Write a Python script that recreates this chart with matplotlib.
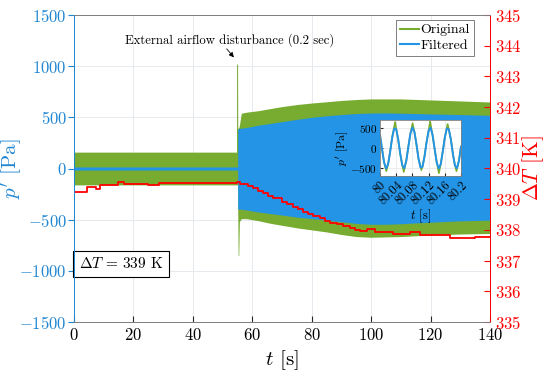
import matplotlib
matplotlib.use('Agg')
import matplotlib.pyplot as plt
from matplotlib.ticker import FixedLocator, FixedFormatter
from matplotlib.lines import Line2D

plt.rcParams.update({
    'font.family': 'serif',
    'font.serif': ['cmr10'],
    'mathtext.fontset': 'cm',
    'axes.formatter.use_mathtext': True,
})

# ---------------- data ----------------
# main plot: envelopes of the pressure signals (Pa)
green_t = [0, 54.70, 54.72, 55.05, 55.10, 55.25, 55.45, 55.65, 56.3, 58, 62, 66, 70, 75,
           80, 85, 90, 95, 100, 110, 120, 130, 140]
green_hi = [160, 160, 1020, 1020, 390, 395, 400, 420, 540, 550, 565, 585, 605, 625,
            640, 652, 665, 674, 680, 680, 670, 660, 650]
green_lo = [-160, -160, -160, -160, -395, -850, -850, -520, -490, -490, -510, -535, -555, -580,
            -600, -620, -645, -665, -672, -665, -650, -640, -635]

blue_t = [0, 55.08, 55.10, 58, 62, 66, 70, 75, 80, 85, 90, 95, 100, 105, 110, 115, 120,
          125, 130, 135, 140]
blue_hi = [15, 15, 390, 400, 423, 440, 458, 480, 500, 515, 527, 537, 542, 543, 540, 537,
           533, 530, 527, 523, 520]
blue_lo = [-15, -15, -395, -405, -425, -440, -455, -475, -490, -505, -520, -537, -545, -545,
           -540, -532, -525, -518, -512, -508, -505]

# temperature difference (K), step signal
dT_t = [0, 4.3, 7.3, 8.8, 14.8, 16.8, 25.0, 28.7, 54.8, 55.9, 58.7, 60.4, 62.0, 63.7, 65.4,
        67.1, 69.9, 71.6, 73.8, 75.5, 77.2, 78.9, 80.5, 82.8, 84.5, 86.2, 88.4, 90.6, 92.9,
        94.6, 96.3, 98.5, 101.3, 107.5, 113.1, 116.5, 126.6, 135.0, 140]
dT = [339.24, 339.39, 339.34, 339.46, 339.55, 339.50, 339.45, 339.54, 339.56, 339.50, 339.43,
      339.35, 339.28, 339.19, 339.10, 339.03, 338.92, 338.84, 338.76, 338.67, 338.59, 338.52,
      338.45, 338.38, 338.30, 338.23, 338.19, 338.13, 338.05, 338.00, 337.97, 338.04, 337.94,
      337.87, 337.92, 337.83, 337.72, 337.78, 337.78]

# inset: zoom of t = 80 ... 80.2 s
ins_filt_t = [80.000, 80.005, 80.010, 80.015, 80.020, 80.025, 80.030, 80.035, 80.040, 80.045,
              80.050, 80.055, 80.060, 80.065, 80.070, 80.075, 80.080, 80.085, 80.090, 80.095,
              80.100, 80.105, 80.110, 80.115, 80.120, 80.125, 80.130, 80.135, 80.140, 80.145,
              80.150, 80.155, 80.160, 80.165, 80.170, 80.175, 80.180, 80.185, 80.190, 80.195,
              80.200]
ins_filt_p = [318, -18, -350, -502, -402, -101, 252, 479, 463, 214,
              -143, -427, -497, -317, 24, 352, 503, 400, 97, -256,
              -480, -462, -211, 146, 429, 497, 314, -28, -354, -503,
              -398, -95, 259, 480, 460, 209, -147, -431, -496, -312,
              32]
ins_orig_t = [80.000, 80.005, 80.010, 80.0156, 80.020, 80.025, 80.030, 80.0372, 80.045, 80.050,
              80.055, 80.0588, 80.065, 80.070, 80.075, 80.0805, 80.085, 80.090, 80.095, 80.1021,
              80.105, 80.110, 80.115, 80.120, 80.1238, 80.130, 80.135, 80.140, 80.1455, 80.150,
              80.155, 80.160, 80.167, 80.175, 80.180, 80.185, 80.1888, 80.195, 80.200]
ins_orig_p = [320, -30, -350, -570, -400, -80, 260, 640, 190, -150,
              -420, -590, -290, 40, 350, 610, 390, 80, -260, -545,
              -450, -190, 150, 420, 660, 290, -40, -350, -620, -390,
              -70, 260, 590, 210, -150, -420, -570, -310, 40]

x_ticks = [0, 20, 40, 60, 80, 100, 120, 140]
p_ticks = [-1500, -1000, -500, 0, 500, 1000, 1500]
dT_ticks = [335, 336, 337, 338, 339, 340, 341, 342, 343, 344, 345]
ins_x_ticks = [80, 80.04, 80.08, 80.12, 80.16, 80.2]
ins_x_labels = ['80', '80.04', '80.08', '80.12', '80.16', '80.2']
ins_y_ticks = [-500, 0, 500]

# ---------------- styles ----------------
GREEN = '#77AC30'
BLUE = '#2394E6'
BLUE_AX = '#1f86d2'
RED = '#FF0000'
GRID = '#e6e9ee'
DARK = '#262626'

fig = plt.figure(figsize=(5.5, 3.71), dpi=100)
ax = fig.add_axes([74/550, 1-322/371, 416/550, 307/371])
ax2 = ax.twinx()

ax.fill_between(green_t, green_lo, green_hi, color=GREEN, lw=0, zorder=2)
ax.fill_between(blue_t, blue_lo, blue_hi, color=BLUE, lw=0, zorder=3)
ax2.plot(dT_t, dT, drawstyle='steps-post', color=RED, lw=1.3)

ax.set_xlim(0, 140)
ax.set_ylim(-1500, 1500)
ax2.set_ylim(335, 345)
ax.set_xticks(x_ticks)
ax.set_yticks(p_ticks)
ax2.set_yticks(dT_ticks)
ax.grid(True, color=GRID, lw=0.7, zorder=0)
ax.set_axisbelow(True)

ax.tick_params(axis='y', colors=BLUE_AX, direction='out', labelsize=12, length=4, right=False,
               pad=1)
ax.tick_params(axis='x', colors=DARK, labelcolor='black', direction='in', labelsize=12, length=4)
ax2.tick_params(axis='y', colors=RED, direction='in', labelsize=12, length=4)
ax.spines['left'].set_color(BLUE_AX)
ax2.spines['left'].set_color(BLUE_AX)
ax2.spines['right'].set_color(RED)
for s in ('top', 'bottom'):
    ax.spines[s].set_color('#808080')
    ax2.spines[s].set_color('#808080')
for a in (ax, ax2):
    for s in a.spines.values():
        s.set_linewidth(0.7)

ax.set_ylabel(r"$p'$ [Pa]", color=BLUE_AX, fontsize=15)
ax.yaxis.set_label_coords(-0.117, 0.5)
ax2.set_ylabel(r"$\Delta T$ [K]", color=RED, fontsize=15.5)
ax2.yaxis.set_label_coords(1.072, 0.5)
ax.set_xlabel(r"$t$ [s]", fontsize=15)
ax.xaxis.set_label_coords(0.5, -0.085)

handles = [Line2D([], [], color=GREEN, lw=1.5), Line2D([], [], color=BLUE, lw=1.5)]
leg = ax2.legend(handles, ['Original', 'Filtered'], loc='upper right',
                 bbox_to_anchor=(0.962, 0.985), fontsize=10,
                 handlelength=1.35, handletextpad=0.15, borderpad=0.3, labelspacing=0.2,
                 fancybox=False, framealpha=1, edgecolor='#808080', borderaxespad=0)
leg.get_frame().set_linewidth(0.7)

ax.text(52.5, 1253, 'External airflow disturbance (0.2 sec)', ha='center', va='center',
        fontsize=9.2, zorder=6)
ax.annotate('', xy=(54.4, 1065), xytext=(50.8, 1190),
            arrowprops=dict(arrowstyle='-|>', color='k', lw=0.6, mutation_scale=7), zorder=6)

ax.text(0.113, 0.189, r'$\Delta T \,=\, 339$ K', transform=ax.transAxes, ha='center',
        va='center', fontsize=11, zorder=6,
        bbox=dict(boxstyle='square,pad=0.35', fc='white', ec='k', lw=0.8))

# inset
axi = fig.add_axes([380/550, 1-176/371, 81/550, 56/371])
axi.plot(ins_orig_t, ins_orig_p, color=GREEN, lw=1.2)
axi.plot(ins_filt_t, ins_filt_p, color=BLUE, lw=1.4)
axi.set_xlim(80, 80.2)
axi.set_ylim(-690, 690)
axi.xaxis.set_major_locator(FixedLocator(ins_x_ticks))
axi.xaxis.set_major_formatter(FixedFormatter(ins_x_labels))
axi.set_yticks(ins_y_ticks)
axi.grid(True, color=GRID, lw=0.6)
axi.tick_params(direction='in', labelsize=8, length=2, colors=DARK, labelcolor='black', pad=2)
axi.tick_params(axis='x', labelsize=8.8)
for lab in axi.get_xticklabels():
    lab.set_rotation(45)
    lab.set_ha('right')
    lab.set_rotation_mode('anchor')
for s in axi.spines.values():
    s.set_color('#808080')
    s.set_linewidth(0.6)
axi.set_ylabel(r"$p'$ [Pa]", fontsize=8.5, labelpad=0)
axi.set_xlabel(r"$t$ [s]", fontsize=9, labelpad=0)

fig.savefig('out.png', dpi=100)
